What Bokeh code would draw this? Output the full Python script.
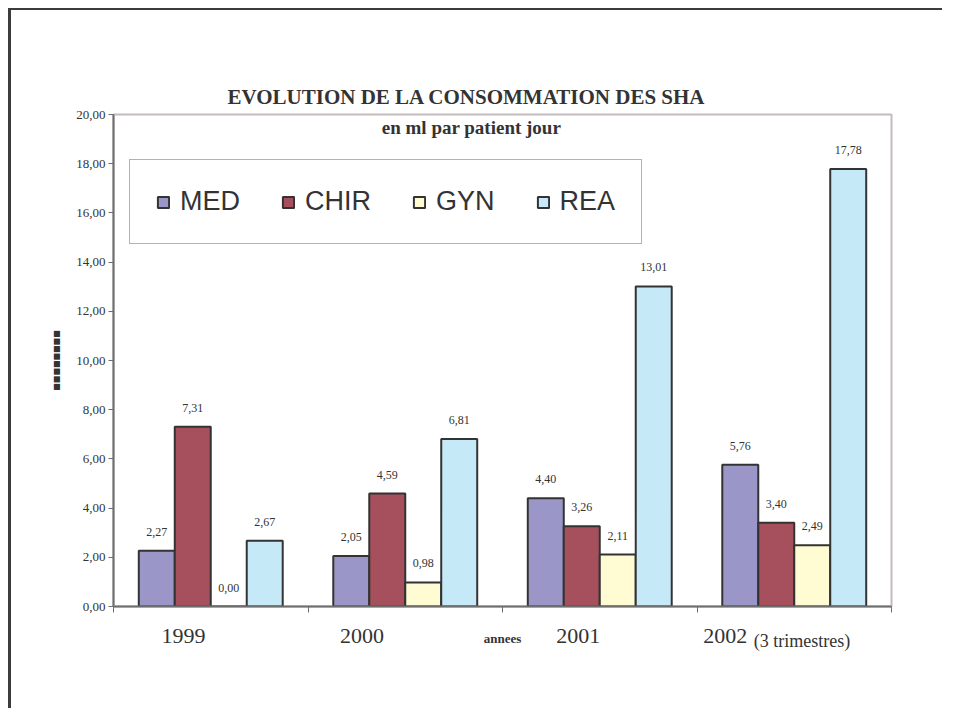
import numpy as np
from bokeh.plotting import figure
from bokeh.models import Range1d, FixedTicker, Label, ColumnDataSource, Legend, LinearAxis
from bokeh.embed import file_html
from bokeh.resources import INLINE
from bokeh.core.properties import value

# ---- data ----
years = ["1999", "2000", "2001", "2002"]
year_note = "(3 trimestres)"
series = ["MED", "CHIR", "GYN", "REA"]
med = [2.27, 2.05, 4.40, 5.76]
chir = [7.31, 4.59, 3.26, 3.40]
gyn = [0.00, 0.98, 2.11, 2.49]
rea = [2.67, 6.81, 13.01, 17.78]
y_ticks = [0, 2, 4, 6, 8, 10, 12, 14, 16, 18, 20]
x_bounds = [0, 1, 2, 3, 4]
title = "EVOLUTION DE LA CONSOMMATION DES SHA"
subtitle = "en ml par patient jour"
x_title = "annees"
y_title = "■■■■■■■■"

colors = ["#9b96c8", "#a5505c", "#fffbd2", "#c6e9f8"]
SERIF = "Liberation Serif"
TXT = "#333333"
AX = "#6e6e6e"

# label anchor positions along x (irregular, as placed in the original)
year_pos = [0.36, 1.278, 2.39, 3.145]
note_pos = [3.54]

W, H = 934, 700
p = figure(width=W, height=H, output_backend="svg", toolbar_location=None,
           x_range=Range1d(0, 4), y_range=Range1d(0, 20),
           min_border_left=102, min_border_top=104, min_border_right=54,
           min_border_bottom=104, background_fill_color="white",
           border_fill_color="white")
p.styles = {"border-top": "2px solid #3c3c3c", "border-left": "3px solid #3c3c3c",
            "margin-left": "8px", "margin-top": "8px"}
p.grid.visible = False
p.outline_line_color = "#c4bcbc"
p.outline_line_width = 2

p.title.text = title
p.title.align = "left"
p.title.offset = 114
p.title.standoff = 12
p.title.text_font = SERIF
p.title.text_font_size = "21px"
p.title.text_font_style = "bold"
p.title.text_color = TXT

bw = 0.185
offsets = [-1.5 * bw, -0.5 * bw, 0.5 * bw, 1.5 * bw]
idx = np.arange(len(years)) + 0.5
renderers = []
for name, vals, col, off in zip(series, [med, chir, gyn, rea], colors, offsets):
    src = ColumnDataSource(dict(x=idx + off, top=vals,
                                lab=[f"{v:.2f}".replace(".", ",") for v in vals]))
    r = p.vbar(x="x", top="top", width=bw, bottom=0, source=src,
               fill_color=col, line_color=TXT, line_width=2)
    renderers.append((name, [r]))
    p.text(x="x", y="top", text="lab", source=src, y_offset=-19,
           text_align="center", text_baseline="middle",
           text_font=value(SERIF), text_font_size="12px", text_color=TXT)

legend = Legend(items=renderers, orientation="horizontal", location=(16, 362),
                glyph_width=14, glyph_height=14, label_standoff=10, spacing=41,
                padding=26, margin=0, border_line_color="#666666",
                border_line_width=1, label_text_font="Liberation Sans",
                label_text_font_size="27px", label_text_color=TXT,
                background_fill_alpha=1)
p.add_layout(legend, "center")

# y axis
p.yaxis.ticker = FixedTicker(ticks=y_ticks)
p.yaxis.major_label_overrides = {t: f"{t:.2f}".replace(".", ",") for t in y_ticks}
p.yaxis.major_label_text_font = SERIF
p.yaxis.major_label_text_font_size = "13px"
p.yaxis.major_label_text_color = TXT
p.yaxis.axis_line_color = AX
p.yaxis.axis_line_width = 2
p.yaxis.major_tick_in = 0
p.yaxis.major_tick_out = 5
p.yaxis.major_tick_line_color = AX
p.yaxis.minor_tick_line_color = None
p.yaxis.major_label_standoff = 3
p.yaxis.axis_label = y_title
p.yaxis.axis_label_text_font = "DejaVu Sans"
p.yaxis.axis_label_text_font_size = "8px"
p.yaxis.axis_label_text_font_style = "normal"
p.yaxis.axis_label_text_color = TXT
p.yaxis.axis_label_standoff = 12

# x axis: boundary ticks as minor ticks, year labels as major ticks
xa = p.xaxis[0]
xa.ticker = FixedTicker(ticks=year_pos, minor_ticks=x_bounds)
xa.major_label_overrides = {t: y for t, y in zip(year_pos, years)}
xa.major_label_text_font = SERIF
xa.major_label_text_font_size = "22px"
xa.major_label_text_color = TXT
xa.major_label_standoff = 16
xa.axis_line_color = AX
xa.axis_line_width = 2
xa.major_tick_in = 0
xa.major_tick_out = 0
xa.minor_tick_in = 0
xa.minor_tick_out = 6
xa.minor_tick_line_color = AX
xa.minor_tick_line_width = 1

xb = LinearAxis(ticker=FixedTicker(ticks=note_pos, minor_ticks=[]),
                major_label_overrides={note_pos[0]: year_note},
                major_label_text_font=SERIF, major_label_text_font_size="18px",
                major_label_text_color=TXT, major_label_standoff=-21,
                axis_line_color=None, major_tick_line_color=None,
                minor_tick_line_color=None,
                axis_label=x_title, axis_label_text_font=SERIF,
                axis_label_text_font_size="13px", axis_label_text_font_style="bold",
                axis_label_text_color=TXT, axis_label_standoff=-23)
p.add_layout(xb, "below")

# subtitle inside the plot frame
p.add_layout(Label(x=358, y=479, x_units="screen", y_units="screen", text=subtitle,
                   text_align="center", text_baseline="middle", text_font=SERIF,
                   text_font_size="19px", text_font_style="bold", text_color=TXT))

open("out.html", "w").write(file_html(p, INLINE))
